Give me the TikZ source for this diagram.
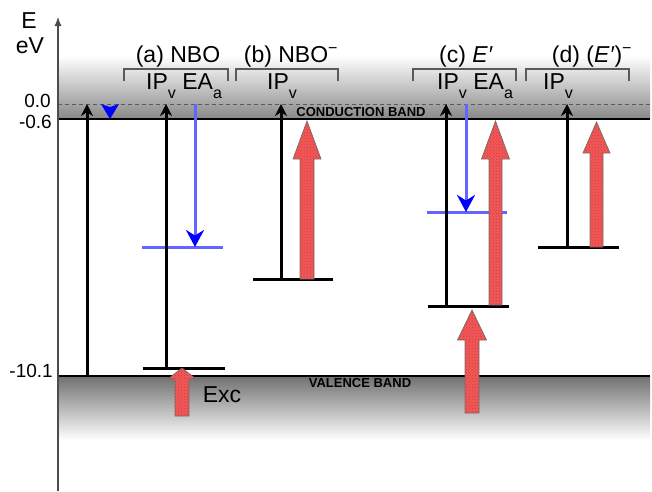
\documentclass[tikz,border=0pt]{standalone}
\usepackage{fontspec}
\setmainfont{Liberation Sans}
\usetikzlibrary{arrows.meta,patterns}

\definecolor{bandtop}{RGB}{136,136,136}
\definecolor{bandbot}{RGB}{112,112,112}
\definecolor{brk}{RGB}{90,90,90}
\definecolor{redfill}{RGB}{242,88,88}
\definecolor{rededge}{RGB}{120,110,110}
\definecolor{bluelev}{RGB}{100,100,255}
\definecolor{bluehead}{RGB}{0,0,255}

\tikzset{
  lbl/.style={inner sep=0pt, font=\fontsize{23}{25}\selectfont},
  numlbl/.style={inner sep=0pt, anchor=east, font=\fontsize{19}{21}\selectfont},
  bandlbl/.style={inner sep=0pt, font=\fontsize{13}{15}\bfseries\selectfont},
  bracket/.style={draw=brk, line width=1.5pt},
  level/.style={draw=black, line width=3pt},
  bluelevel/.style={draw=bluelev, line width=3pt},
  ionarrow/.style={draw=black, line width=3pt, -{Stealth[length=12pt,width=12pt]}},
  bluearrow/.style={draw=bluelev, line width=3pt, -{Stealth[length=17pt,width=18pt,color=bluehead]}},
  redarrow/.style={fill=redfill, draw=rededge, line width=0.7pt},
  reddots/.style={pattern=crosshatch dots, pattern color=red!45!black, opacity=0.3}
}

% block arrow: x centre, y bottom, y tip, shaft half width, head half width, head length
\newcommand\blockarrow[6]{%
  \path[redarrow] (#1-#4,#2) -- (#1-#4,#3+#6) -- (#1-#5,#3+#6) -- (#1,#3)
     -- (#1+#5,#3+#6) -- (#1+#4,#3+#6) -- (#1+#4,#2) -- cycle;
  \path[reddots] (#1-#4,#2) -- (#1-#4,#3+#6) -- (#1-#5,#3+#6) -- (#1,#3)
     -- (#1+#5,#3+#6) -- (#1+#4,#3+#6) -- (#1+#4,#2) -- cycle;}

\newcommand\subv[1]{\raisebox{-0.4em}{\fontsize{16}{16}\selectfont #1}}

\begin{document}
\begin{tikzpicture}[x=1pt,y=-1pt]
\useasboundingbox (0,0) rectangle (652,491);

% conduction and valence bands
\shade[top color=white, bottom color=bandtop] (58,56) rectangle (650,119);
\shade[top color=bandbot, bottom color=white] (58,376) rectangle (650,440);
\draw[brk, line width=0.9pt, dash pattern=on 4pt off 3pt] (58,104) -- (650,104);
\draw[black, line width=2.2pt] (58,119) -- (650,119);
\draw[black, line width=2.2pt] (58,376) -- (650,376);
\node[bandlbl] (cb) at (361,112.5) {CONDUCTION BAND};
\node[bandlbl] (vb) at (360,383.5) {VALENCE BAND};

% energy axis
\coordinate (axlo) at (58,491);
\coordinate (axhi) at (58,17);
\draw[gray!60!black, line width=1.1pt, -{Latex[length=9pt,width=7pt]}] (axlo) -- (axhi);
\node[lbl] (E) at (29,21) {E};
\node[lbl] (eV) at (30,46) {eV};
\node[numlbl] (n0) at (51,101) {0.0};
\node[numlbl] (n1) at (52,122) {-0.6};
\node[numlbl] (n2) at (53,371) {-10.1};

% group brackets and headings
\draw[bracket] (124,81) -- (124,69) -- (228,69) -- (228,81);
\draw[bracket] (236,81) -- (236,69) -- (338,69) -- (338,81);
\draw[bracket] (413,81) -- (413,69) -- (516,69) -- (516,81);
\draw[bracket] (526,81) -- (526,69) -- (629,69) -- (629,81);
\node[lbl] (ha) at (178,57) {(a) NBO};
\node[lbl] (hb) at (291,57) {(b) NBO\textsuperscript{−}};
\node[lbl] (hc) at (466,57) {(c) \textit{E}\textit{′}};
\node[lbl] (hd) at (592,57) {(d) (\textit{E}\textit{′})\textsuperscript{−}};
\node[lbl, anchor=west] (ipa) at (146,86) {IP\subv{v} EA\subv{a}};
\node[lbl, anchor=west] (ipb) at (267,86) {IP\subv{v}};
\node[lbl, anchor=west] (ipc) at (437,86) {IP\subv{v} EA\subv{a}};
\node[lbl, anchor=west] (ipd) at (543,86) {IP\subv{v}};

% named end points
\coordinate (vb0) at (87,376);   \coordinate (top0) at (87,104);
\coordinate (la1) at (143,368);  \coordinate (la2) at (225,368);
\coordinate (lb1) at (253,279);  \coordinate (lb2) at (333,279);
\coordinate (lc1) at (428,306);  \coordinate (lc2) at (509,306);
\coordinate (ld1) at (538,247);  \coordinate (ld2) at (619,247);
\coordinate (ea1) at (142,247);  \coordinate (ea2) at (223,247);
\coordinate (ec1) at (427,212);  \coordinate (ec2) at (507,212);

% defect levels
\draw[level] (la1) -- (la2);
\draw[level] (lb1) -- (lb2);
\draw[level] (lc1) -- (lc2);
\draw[level] (ld1) -- (ld2);
\draw[bluelevel] (ea1) -- (ea2);
\draw[bluelevel] (ec1) -- (ec2);

% photo-excitation block arrows
\blockarrow{182}{416}{368}{7}{14}{11}
\blockarrow{307}{279}{121}{7}{14}{38}
\blockarrow{495.5}{305}{121}{6.5}{14}{38}
\blockarrow{472}{413}{310}{7}{14.5}{30}
\blockarrow{596.5}{247}{122}{6.5}{13.5}{31}
\node[lbl] (exc) at (222,395) {Exc};

% vertical ionisation potentials
\draw[ionarrow] (vb0) -- (top0);
\draw[ionarrow] (166,368) -- (166,104);
\draw[ionarrow] (281,279) -- (281,104);
\draw[ionarrow] (446,306) -- (446,104);
\draw[ionarrow] (567,247) -- (567,104);

% electron affinities
\draw[bluearrow] (195,104) -- (195,247);
\draw[bluearrow] (466,104) -- (466,212);
\fill[bluehead] (101,104) -- (110,107) -- (119,104) -- (110,119) -- cycle;
\end{tikzpicture}
\end{document}
